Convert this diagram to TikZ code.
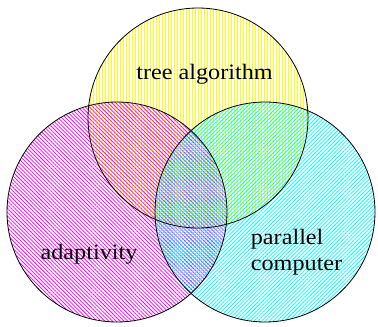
\documentclass[tikz,border=0pt]{standalone}
\usepackage{fontspec}
\setmainfont{Liberation Serif}
\usetikzlibrary{patterns.meta}

\tikzset{
  setlabel/.style={font=\fontsize{22}{26}\selectfont,xscale=1.1,transform shape},
  setrim/.style={line width=0.8pt}
}

\begin{document}
\begin{tikzpicture}[x=1pt,y=-1pt]
\useasboundingbox (0,0) rectangle (378,327);
\coordinate (T) at (198,118);
\coordinate (A) at (117,212);
\coordinate (C) at (265,212);
% hatched sets
\fill[pattern={Lines[angle=90,distance=3pt,line width=0.8pt]},pattern color=yellow] (T) circle (110);
\fill[pattern={Lines[angle=-45,distance=2.7pt,line width=0.75pt]},pattern color=magenta] (A) circle (110);
\fill[pattern={Lines[angle=45,distance=2.7pt,line width=0.75pt]},pattern color=cyan] (C) circle (110);
\draw[setrim] (T) circle (110);
\draw[setrim] (A) circle (110);
\draw[setrim] (C) circle (110);
% labels
\node[setlabel] (tree) at (204.5,74) {tree algorithm};
\node[setlabel] (adapt) at (89,254) {adaptivity};
\node[setlabel,align=left,anchor=west] (comp) at (247,252) {parallel\\computer};
\end{tikzpicture}
\end{document}
